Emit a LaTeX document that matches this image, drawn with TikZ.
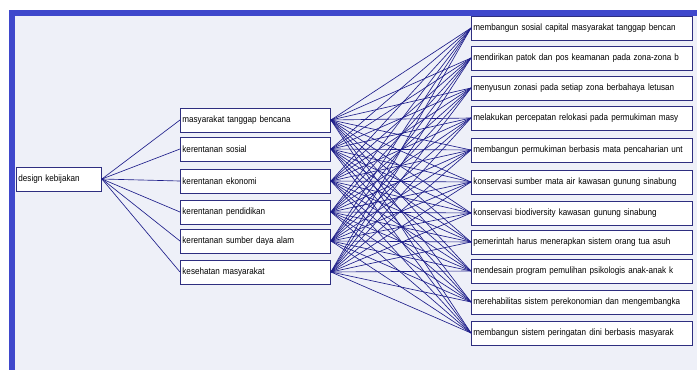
\documentclass[tikz,border=0pt]{standalone}
\usepackage{fontspec}
\usetikzlibrary{positioning}
\newfontfamily\narrowfont[FakeStretch=0.88]{Liberation Sans}
\definecolor{bgpanel}{HTML}{EEF0F8}
\definecolor{framebar}{HTML}{3F48CC}
\definecolor{edgeblue}{HTML}{1E1E8A}
\definecolor{boxline}{HTML}{2E2E80}
\tikzset{
  box/.style={draw=boxline, fill=white, line width=0.9pt, inner sep=2pt,
    anchor=west, align=left, minimum height=24pt,
    font=\narrowfont\fontsize{9.2}{10}\selectfont},
  link/.style={draw=edgeblue, line width=0.65pt}
}

\begin{document}
\begin{tikzpicture}[x=1pt,y=-1pt]
\useasboundingbox (0,0) rectangle (697,370);
\fill[white] (0,0) rectangle (697,370);
\fill[bgpanel] (9,10) rectangle (697,370);
\fill[framebar] (9,10) rectangle (697,16);
\fill[framebar] (9,10) rectangle (15,370);

% root
\node[box, text width=81pt] (dk) at (16,179) {design kebijakan};

% middle level
\node[box, text width=146pt] (m1) at (180,120) {masyarakat tanggap bencana};
\node[box, text width=146pt] (m2) at (180,149) {kerentanan sosial};
\node[box, text width=146pt] (m3) at (180,181) {kerentanan ekonomi};
\node[box, text width=146pt] (m4) at (180,212) {kerentanan pendidikan};
\node[box, text width=146pt] (m5) at (180,241) {kerentanan sumber daya alam};
\node[box, text width=146pt] (m6) at (180,272) {kesehatan masyarakat};

% right level
\node[box, text width=217pt] (r1) at (471,28) {membangun sosial capital masyarakat tanggap bencan};
\node[box, text width=217pt] (r2) at (471,58) {mendirikan patok dan pos keamanan pada zona-zona b};
\node[box, text width=217pt] (r3) at (471,88) {menyusun zonasi pada setiap zona berbahaya letusan};
\node[box, text width=217pt] (r4) at (471,118) {melakukan percepatan relokasi pada permukiman masy};
\node[box, text width=217pt] (r5) at (471,150) {membangun permukiman berbasis mata pencaharian unt};
\node[box, text width=217pt] (r6) at (471,182) {konservasi sumber mata air kawasan gunung sinabung};
\node[box, text width=217pt] (r7) at (471,213) {konservasi biodiversity kawasan gunung sinabung};
\node[box, text width=217pt] (r8) at (471,242) {pemerintah harus menerapkan sistem orang tua asuh};
\node[box, text width=217pt] (r9) at (471,271) {mendesain program pemulihan psikologis anak-anak k};
\node[box, text width=217pt] (r10) at (471,302) {merehabilitas sistem perekonomian dan mengembangka};
\node[box, text width=217pt] (r11) at (471,333) {membangun sistem peringatan dini berbasis masyarak};

% connectors
\foreach \i in {1,...,6} {
  \draw[link] (dk.east) -- (m\i.west);
  \foreach \j in {1,...,11}
    \draw[link] (m\i.east) -- (r\j.west);
}
\end{tikzpicture}
\end{document}
